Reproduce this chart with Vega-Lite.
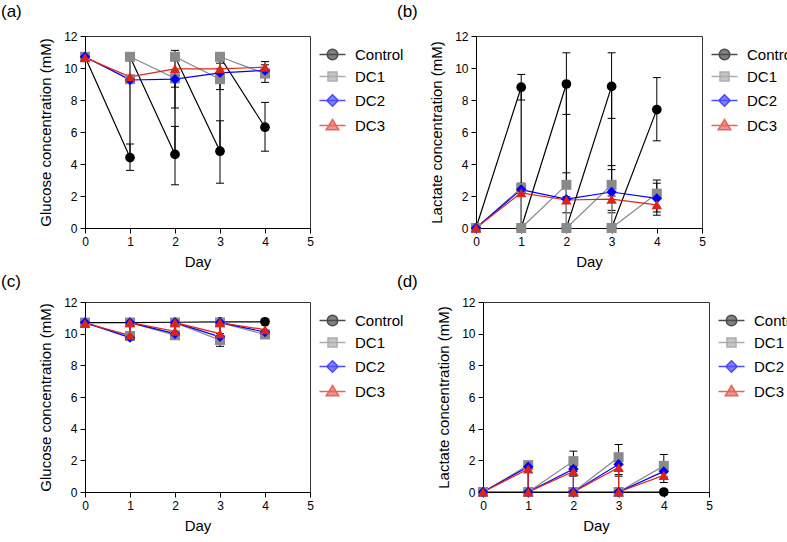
{
"$schema": "https://vega.github.io/schema/vega-lite/v6.json",
"padding": {"left": 0, "top": 2, "right": 0, "bottom": 0},
"spacing": 2,
"datasets": {
"pts": [
{"p":"a","s":"Control","k":0,"d":0,"v":10.7},{"p":"a","s":"Control","k":1,"d":1,"v":4.4},{"p":"a","s":"Control","k":2,"d":1,"v":10.7},{"p":"a","s":"Control","k":3,"d":2,"v":4.6},{"p":"a","s":"Control","k":4,"d":2,"v":10.7},{"p":"a","s":"Control","k":5,"d":3,"v":4.8},{"p":"a","s":"Control","k":6,"d":3,"v":10.7},{"p":"a","s":"Control","k":7,"d":4,"v":6.3},
{"p":"a","s":"DC1","k":0,"d":0,"v":10.7},{"p":"a","s":"DC1","k":1,"d":1,"v":9.3},{"p":"a","s":"DC1","k":2,"d":1,"v":10.7},{"p":"a","s":"DC1","k":3,"d":2,"v":9.35},{"p":"a","s":"DC1","k":4,"d":2,"v":10.7},{"p":"a","s":"DC1","k":5,"d":3,"v":9.3},{"p":"a","s":"DC1","k":6,"d":3,"v":10.7},{"p":"a","s":"DC1","k":7,"d":4,"v":9.65},
{"p":"a","s":"DC2","k":0,"d":0,"v":10.7},{"p":"a","s":"DC2","k":1,"d":1,"v":9.25},{"p":"a","s":"DC2","k":2,"d":2,"v":9.3},{"p":"a","s":"DC2","k":3,"d":3,"v":9.7},{"p":"a","s":"DC2","k":4,"d":4,"v":9.85},
{"p":"a","s":"DC3","k":0,"d":0,"v":10.65},{"p":"a","s":"DC3","k":1,"d":1,"v":9.45},{"p":"a","s":"DC3","k":2,"d":2,"v":9.95},{"p":"a","s":"DC3","k":3,"d":3,"v":9.95},{"p":"a","s":"DC3","k":4,"d":4,"v":10.05},
{"p":"b","s":"Control","k":0,"d":0,"v":0},{"p":"b","s":"Control","k":1,"d":1,"v":8.8},{"p":"b","s":"Control","k":2,"d":1,"v":0},{"p":"b","s":"Control","k":3,"d":2,"v":9.0},{"p":"b","s":"Control","k":4,"d":2,"v":0},{"p":"b","s":"Control","k":5,"d":3,"v":8.85},{"p":"b","s":"Control","k":6,"d":3,"v":0},{"p":"b","s":"Control","k":7,"d":4,"v":7.4},
{"p":"b","s":"DC1","k":0,"d":0,"v":0},{"p":"b","s":"DC1","k":1,"d":1,"v":2.5},{"p":"b","s":"DC1","k":2,"d":1,"v":0},{"p":"b","s":"DC1","k":3,"d":2,"v":2.7},{"p":"b","s":"DC1","k":4,"d":2,"v":0},{"p":"b","s":"DC1","k":5,"d":3,"v":2.7},{"p":"b","s":"DC1","k":6,"d":3,"v":0},{"p":"b","s":"DC1","k":7,"d":4,"v":2.15},
{"p":"b","s":"DC2","k":0,"d":0,"v":0},{"p":"b","s":"DC2","k":1,"d":1,"v":2.4},{"p":"b","s":"DC2","k":2,"d":2,"v":1.8},{"p":"b","s":"DC2","k":3,"d":3,"v":2.25},{"p":"b","s":"DC2","k":4,"d":4,"v":1.85},
{"p":"b","s":"DC3","k":0,"d":0,"v":0},{"p":"b","s":"DC3","k":1,"d":1,"v":2.2},{"p":"b","s":"DC3","k":2,"d":2,"v":1.75},{"p":"b","s":"DC3","k":3,"d":3,"v":1.8},{"p":"b","s":"DC3","k":4,"d":4,"v":1.45},
{"p":"c","s":"Control","k":0,"d":0,"v":10.7},{"p":"c","s":"Control","k":1,"d":1,"v":10.7},{"p":"c","s":"Control","k":2,"d":2,"v":10.72},{"p":"c","s":"Control","k":3,"d":3,"v":10.75},{"p":"c","s":"Control","k":4,"d":4,"v":10.75},
{"p":"c","s":"DC1","k":0,"d":0,"v":10.7},{"p":"c","s":"DC1","k":1,"d":1,"v":9.85},{"p":"c","s":"DC1","k":2,"d":1,"v":10.7},{"p":"c","s":"DC1","k":3,"d":2,"v":9.9},{"p":"c","s":"DC1","k":4,"d":2,"v":10.7},{"p":"c","s":"DC1","k":5,"d":3,"v":9.6},{"p":"c","s":"DC1","k":6,"d":3,"v":10.7},{"p":"c","s":"DC1","k":7,"d":4,"v":9.95},
{"p":"c","s":"DC2","k":0,"d":0,"v":10.7},{"p":"c","s":"DC2","k":1,"d":1,"v":9.75},{"p":"c","s":"DC2","k":2,"d":1,"v":10.7},{"p":"c","s":"DC2","k":3,"d":2,"v":10.0},{"p":"c","s":"DC2","k":4,"d":2,"v":10.7},{"p":"c","s":"DC2","k":5,"d":3,"v":9.8},{"p":"c","s":"DC2","k":6,"d":3,"v":10.7},{"p":"c","s":"DC2","k":7,"d":4,"v":10.1},
{"p":"c","s":"DC3","k":0,"d":0,"v":10.65},{"p":"c","s":"DC3","k":1,"d":1,"v":9.9},{"p":"c","s":"DC3","k":2,"d":1,"v":10.7},{"p":"c","s":"DC3","k":3,"d":2,"v":10.15},{"p":"c","s":"DC3","k":4,"d":2,"v":10.7},{"p":"c","s":"DC3","k":5,"d":3,"v":10.0},{"p":"c","s":"DC3","k":6,"d":3,"v":10.7},{"p":"c","s":"DC3","k":7,"d":4,"v":10.25},
{"p":"d","s":"Control","k":0,"d":0,"v":0},{"p":"d","s":"Control","k":1,"d":1,"v":0},{"p":"d","s":"Control","k":2,"d":2,"v":0},{"p":"d","s":"Control","k":3,"d":3,"v":0},{"p":"d","s":"Control","k":4,"d":4,"v":0},
{"p":"d","s":"DC1","k":0,"d":0,"v":0},{"p":"d","s":"DC1","k":1,"d":1,"v":1.7},{"p":"d","s":"DC1","k":2,"d":1,"v":0},{"p":"d","s":"DC1","k":3,"d":2,"v":1.95},{"p":"d","s":"DC1","k":4,"d":2,"v":0},{"p":"d","s":"DC1","k":5,"d":3,"v":2.2},{"p":"d","s":"DC1","k":6,"d":3,"v":0},{"p":"d","s":"DC1","k":7,"d":4,"v":1.65},
{"p":"d","s":"DC2","k":0,"d":0,"v":0},{"p":"d","s":"DC2","k":1,"d":1,"v":1.6},{"p":"d","s":"DC2","k":2,"d":1,"v":0},{"p":"d","s":"DC2","k":3,"d":2,"v":1.45},{"p":"d","s":"DC2","k":4,"d":2,"v":0},{"p":"d","s":"DC2","k":5,"d":3,"v":1.75},{"p":"d","s":"DC2","k":6,"d":3,"v":0},{"p":"d","s":"DC2","k":7,"d":4,"v":1.3},
{"p":"d","s":"DC3","k":0,"d":0,"v":0},{"p":"d","s":"DC3","k":1,"d":1,"v":1.45},{"p":"d","s":"DC3","k":2,"d":1,"v":0},{"p":"d","s":"DC3","k":3,"d":2,"v":1.3},{"p":"d","s":"DC3","k":4,"d":2,"v":0},{"p":"d","s":"DC3","k":5,"d":3,"v":1.55},{"p":"d","s":"DC3","k":6,"d":3,"v":0},{"p":"d","s":"DC3","k":7,"d":4,"v":1.05}
],
"err": [
{"p":"a","s":"Control","d":1,"lo":3.6,"hi":5.25},{"p":"a","s":"Control","d":2,"lo":2.7,"hi":6.35},{"p":"a","s":"Control","d":3,"lo":2.8,"hi":6.7},{"p":"a","s":"Control","d":4,"lo":4.8,"hi":7.85},
{"p":"a","s":"DC1","d":2,"lo":7.5,"hi":11.1},{"p":"a","s":"DC1","d":3,"lo":8.65,"hi":9.95},{"p":"a","s":"DC1","d":4,"lo":9.1,"hi":10.2},
{"p":"a","s":"DC2","d":2,"lo":8.8,"hi":9.8},{"p":"a","s":"DC3","d":3,"lo":9.6,"hi":10.3},{"p":"a","s":"DC3","d":4,"lo":9.7,"hi":10.4},
{"p":"b","s":"Control","d":1,"lo":8.0,"hi":9.6},{"p":"b","s":"Control","d":2,"lo":7.1,"hi":10.95},{"p":"b","s":"Control","d":3,"lo":6.85,"hi":10.95},{"p":"b","s":"Control","d":4,"lo":5.45,"hi":9.4},
{"p":"b","s":"DC1","d":1,"lo":2.2,"hi":2.8},{"p":"b","s":"DC1","d":2,"lo":1.95,"hi":3.45},{"p":"b","s":"DC1","d":3,"lo":2.0,"hi":3.9},{"p":"b","s":"DC1","d":4,"lo":1.3,"hi":3.0},
{"p":"b","s":"DC2","d":3,"lo":1.1,"hi":3.65},{"p":"b","s":"DC2","d":4,"lo":1.0,"hi":2.8},
{"p":"b","s":"DC3","d":2,"lo":0.95,"hi":2.5},{"p":"b","s":"DC3","d":3,"lo":0.95,"hi":2.6},{"p":"b","s":"DC3","d":4,"lo":0.8,"hi":2.1},
{"p":"c","s":"DC1","d":3,"lo":9.2,"hi":10.0},
{"p":"d","s":"DC1","d":2,"lo":1.3,"hi":2.58},{"p":"d","s":"DC1","d":3,"lo":1.4,"hi":3.0},{"p":"d","s":"DC1","d":4,"lo":0.95,"hi":2.37},
{"p":"d","s":"DC2","d":3,"lo":1.1,"hi":2.4},{"p":"d","s":"DC3","d":2,"lo":1.0,"hi":1.6},{"p":"d","s":"DC3","d":3,"lo":1.0,"hi":2.1},{"p":"d","s":"DC3","d":4,"lo":0.6,"hi":1.5}
]
},
"vconcat": [
{"hconcat": [
{"width": 225, "height": 192,
 "title": {"text": "(a)", "offset": 9},
 "data": {"name": "pts"},
 "encoding": {"x":{"field":"d","type":"quantitative","scale":{"domain":[0,5],"nice":false},"axis":{"values":[0,1,2,3,4,5],"title":"Day"}},
   "y":{"field":"v","type":"quantitative","scale":{"domain":[0,12],"nice":false},"axis":{"values":[0,2,4,6,8,10,12],"title":"Glucose concentration (mM)"}}},
 "layer": [
  {"data": {"name":"err"}, "transform":[{"filter":"datum.p == 'a'"}], "mark":{"type":"rule","color":"#000000","strokeWidth":1},
   "encoding":{"y":{"field":"lo","type":"quantitative","scale":{"domain":[0,12],"nice":false},"axis":{"values":[0,2,4,6,8,10,12],"title":"Glucose concentration (mM)"}},"y2":{"field":"hi"}}},
  {"data": {"name":"err"}, "transform":[{"filter":"datum.p == 'a'"}], "mark":{"type":"point","shape":"stroke","size":64,"color":"#000000","strokeWidth":1,"opacity":1},
   "encoding":{"y":{"field":"lo","type":"quantitative","scale":{"domain":[0,12],"nice":false},"axis":{"values":[0,2,4,6,8,10,12],"title":"Glucose concentration (mM)"}}}},
  {"data": {"name":"err"}, "transform":[{"filter":"datum.p == 'a'"}], "mark":{"type":"point","shape":"stroke","size":64,"color":"#000000","strokeWidth":1,"opacity":1},
   "encoding":{"y":{"field":"hi","type":"quantitative","scale":{"domain":[0,12],"nice":false},"axis":{"values":[0,2,4,6,8,10,12],"title":"Glucose concentration (mM)"}}}},
  {"transform":[{"filter":"datum.p == 'a' && datum.s == 'Control'"}], "mark":{"type":"line","color":"#000000","strokeWidth":1.2}, "encoding":{"order":{"field":"k","type":"quantitative"}}},
  {"transform":[{"filter":"datum.p == 'a' && datum.s == 'DC1'"}], "mark":{"type":"line","color":"#8a8a8a","strokeWidth":1.2}, "encoding":{"order":{"field":"k","type":"quantitative"}}},
  {"transform":[{"filter":"datum.p == 'a' && datum.s == 'DC2'"}], "mark":{"type":"line","color":"#0000ff","strokeWidth":1.2}, "encoding":{"order":{"field":"k","type":"quantitative"}}},
  {"transform":[{"filter":"datum.p == 'a' && datum.s == 'DC3'"}], "mark":{"type":"line","color":"#dd2418","strokeWidth":1.2}, "encoding":{"order":{"field":"k","type":"quantitative"}}},
  {"transform":[{"filter":"datum.p == 'a' && datum.s == 'Control'"}], "mark":{"type":"point","shape":"circle","filled":true,"opacity":1,"size":95,"color":"#000000"}},
  {"transform":[{"filter":"datum.p == 'a' && datum.s == 'DC1'"}], "mark":{"type":"point","shape":"square","filled":true,"opacity":1,"size":100,"color":"#8a8a8a"}},
  {"transform":[{"filter":"datum.p == 'a' && datum.s == 'DC2'"}], "mark":{"type":"point","shape":"diamond","filled":true,"opacity":1,"size":110,"color":"#0000ff"}},
  {"transform":[{"filter":"datum.p == 'a' && datum.s == 'DC3'"}], "mark":{"type":"point","shape":"triangle-up","filled":true,"opacity":1,"size":110,"color":"#dd2418"}},
  {"transform":[{"filter":"datum.p == 'none'"}], "mark":{"type":"point","filled":true},
   "encoding":{
    "fill":{"field":"s","type":"nominal","scale":{"domain":["Control","DC1","DC2","DC3"],"range":["#000000","#8a8a8a","#0000ff","#dd2418"]},"legend":{"title":" "}},
    "stroke":{"field":"s","type":"nominal","scale":{"domain":["Control","DC1","DC2","DC3"],"range":["#000000","#8a8a8a","#0000ff","#dd2418"]},"legend":{"title":" "}},
    "shape":{"field":"s","type":"nominal","scale":{"domain":["Control","DC1","DC2","DC3"],"range":["M-2.6,0L2.6,0M-1.05,0A1.05,1.05,0,1,0,1.05,0A1.05,1.05,0,1,0,-1.05,0Z","M-2.6,0L2.6,0M-0.9,-0.9L0.9,-0.9L0.9,0.9L-0.9,0.9Z","M-2.6,0L2.6,0M0,-1.15L1.15,0L0,1.15L-1.15,0Z","M-2.6,0L2.6,0M0,-1.2L1.25,0.85L-1.25,0.85Z"]},"legend":{"title":" "}}}}
 ]},
{"width": 226, "height": 192,
 "title": {"text": "(b)", "offset": 9, "dx": -79},
 "data": {"name": "pts"},
 "encoding": {"x":{"field":"d","type":"quantitative","scale":{"domain":[0,5],"nice":false},"axis":{"values":[0,1,2,3,4,5],"title":"Day"}},
   "y":{"field":"v","type":"quantitative","scale":{"domain":[0,12],"nice":false},"axis":{"values":[0,2,4,6,8,10,12],"title":"Lactate concentration (mM)"}}},
 "layer": [
  {"data": {"name":"err"}, "transform":[{"filter":"datum.p == 'b'"}], "mark":{"type":"rule","color":"#000000","strokeWidth":1},
   "encoding":{"y":{"field":"lo","type":"quantitative","scale":{"domain":[0,12],"nice":false},"axis":{"values":[0,2,4,6,8,10,12],"title":"Lactate concentration (mM)"}},"y2":{"field":"hi"}}},
  {"data": {"name":"err"}, "transform":[{"filter":"datum.p == 'b'"}], "mark":{"type":"point","shape":"stroke","size":64,"color":"#000000","strokeWidth":1,"opacity":1},
   "encoding":{"y":{"field":"lo","type":"quantitative","scale":{"domain":[0,12],"nice":false},"axis":{"values":[0,2,4,6,8,10,12],"title":"Lactate concentration (mM)"}}}},
  {"data": {"name":"err"}, "transform":[{"filter":"datum.p == 'b'"}], "mark":{"type":"point","shape":"stroke","size":64,"color":"#000000","strokeWidth":1,"opacity":1},
   "encoding":{"y":{"field":"hi","type":"quantitative","scale":{"domain":[0,12],"nice":false},"axis":{"values":[0,2,4,6,8,10,12],"title":"Lactate concentration (mM)"}}}},
  {"transform":[{"filter":"datum.p == 'b' && datum.s == 'Control'"}], "mark":{"type":"line","color":"#000000","strokeWidth":1.2}, "encoding":{"order":{"field":"k","type":"quantitative"}}},
  {"transform":[{"filter":"datum.p == 'b' && datum.s == 'DC1'"}], "mark":{"type":"line","color":"#8a8a8a","strokeWidth":1.2}, "encoding":{"order":{"field":"k","type":"quantitative"}}},
  {"transform":[{"filter":"datum.p == 'b' && datum.s == 'DC2'"}], "mark":{"type":"line","color":"#0000ff","strokeWidth":1.2}, "encoding":{"order":{"field":"k","type":"quantitative"}}},
  {"transform":[{"filter":"datum.p == 'b' && datum.s == 'DC3'"}], "mark":{"type":"line","color":"#dd2418","strokeWidth":1.2}, "encoding":{"order":{"field":"k","type":"quantitative"}}},
  {"transform":[{"filter":"datum.p == 'b' && datum.s == 'Control'"}], "mark":{"type":"point","shape":"circle","filled":true,"opacity":1,"size":95,"color":"#000000"}},
  {"transform":[{"filter":"datum.p == 'b' && datum.s == 'DC1'"}], "mark":{"type":"point","shape":"square","filled":true,"opacity":1,"size":100,"color":"#8a8a8a"}},
  {"transform":[{"filter":"datum.p == 'b' && datum.s == 'DC2'"}], "mark":{"type":"point","shape":"diamond","filled":true,"opacity":1,"size":110,"color":"#0000ff"}},
  {"transform":[{"filter":"datum.p == 'b' && datum.s == 'DC3'"}], "mark":{"type":"point","shape":"triangle-up","filled":true,"opacity":1,"size":110,"color":"#dd2418"}},
  {"transform":[{"filter":"datum.p == 'none'"}], "mark":{"type":"point","filled":true},
   "encoding":{
    "fill":{"field":"s","type":"nominal","scale":{"domain":["Control","DC1","DC2","DC3"],"range":["#000000","#8a8a8a","#0000ff","#dd2418"]},"legend":{"title":" "}},
    "stroke":{"field":"s","type":"nominal","scale":{"domain":["Control","DC1","DC2","DC3"],"range":["#000000","#8a8a8a","#0000ff","#dd2418"]},"legend":{"title":" "}},
    "shape":{"field":"s","type":"nominal","scale":{"domain":["Control","DC1","DC2","DC3"],"range":["M-2.6,0L2.6,0M-1.05,0A1.05,1.05,0,1,0,1.05,0A1.05,1.05,0,1,0,-1.05,0Z","M-2.6,0L2.6,0M-0.9,-0.9L0.9,-0.9L0.9,0.9L-0.9,0.9Z","M-2.6,0L2.6,0M0,-1.15L1.15,0L0,1.15L-1.15,0Z","M-2.6,0L2.6,0M0,-1.2L1.25,0.85L-1.25,0.85Z"]},"legend":{"title":" "}}}}
 ]}
], "spacing": -9,
 "resolve": {"scale": {"fill": "independent", "stroke": "independent", "shape": "independent"}, "legend": {"fill": "independent", "stroke": "independent", "shape": "independent"}}},
{"hconcat": [
{"width": 225, "height": 190,
 "title": {"text": "(c)", "offset": 5},
 "data": {"name": "pts"},
 "encoding": {"x":{"field":"d","type":"quantitative","scale":{"domain":[0,5],"nice":false},"axis":{"values":[0,1,2,3,4,5],"title":"Day"}},
   "y":{"field":"v","type":"quantitative","scale":{"domain":[0,12],"nice":false},"axis":{"values":[0,2,4,6,8,10,12],"title":"Glucose concentration (mM)"}}},
 "layer": [
  {"data": {"name":"err"}, "transform":[{"filter":"datum.p == 'c'"}], "mark":{"type":"rule","color":"#000000","strokeWidth":1},
   "encoding":{"y":{"field":"lo","type":"quantitative","scale":{"domain":[0,12],"nice":false},"axis":{"values":[0,2,4,6,8,10,12],"title":"Glucose concentration (mM)"}},"y2":{"field":"hi"}}},
  {"data": {"name":"err"}, "transform":[{"filter":"datum.p == 'c'"}], "mark":{"type":"point","shape":"stroke","size":64,"color":"#000000","strokeWidth":1,"opacity":1},
   "encoding":{"y":{"field":"lo","type":"quantitative","scale":{"domain":[0,12],"nice":false},"axis":{"values":[0,2,4,6,8,10,12],"title":"Glucose concentration (mM)"}}}},
  {"data": {"name":"err"}, "transform":[{"filter":"datum.p == 'c'"}], "mark":{"type":"point","shape":"stroke","size":64,"color":"#000000","strokeWidth":1,"opacity":1},
   "encoding":{"y":{"field":"hi","type":"quantitative","scale":{"domain":[0,12],"nice":false},"axis":{"values":[0,2,4,6,8,10,12],"title":"Glucose concentration (mM)"}}}},
  {"transform":[{"filter":"datum.p == 'c' && datum.s == 'Control'"}], "mark":{"type":"line","color":"#000000","strokeWidth":1.2}, "encoding":{"order":{"field":"k","type":"quantitative"}}},
  {"transform":[{"filter":"datum.p == 'c' && datum.s == 'DC1'"}], "mark":{"type":"line","color":"#8a8a8a","strokeWidth":1.2}, "encoding":{"order":{"field":"k","type":"quantitative"}}},
  {"transform":[{"filter":"datum.p == 'c' && datum.s == 'DC2'"}], "mark":{"type":"line","color":"#0000ff","strokeWidth":1.2}, "encoding":{"order":{"field":"k","type":"quantitative"}}},
  {"transform":[{"filter":"datum.p == 'c' && datum.s == 'DC3'"}], "mark":{"type":"line","color":"#dd2418","strokeWidth":1.2}, "encoding":{"order":{"field":"k","type":"quantitative"}}},
  {"transform":[{"filter":"datum.p == 'c' && datum.s == 'Control'"}], "mark":{"type":"point","shape":"circle","filled":true,"opacity":1,"size":95,"color":"#000000"}},
  {"transform":[{"filter":"datum.p == 'c' && datum.s == 'DC1'"}], "mark":{"type":"point","shape":"square","filled":true,"opacity":1,"size":100,"color":"#8a8a8a"}},
  {"transform":[{"filter":"datum.p == 'c' && datum.s == 'DC2'"}], "mark":{"type":"point","shape":"diamond","filled":true,"opacity":1,"size":110,"color":"#0000ff"}},
  {"transform":[{"filter":"datum.p == 'c' && datum.s == 'DC3'"}], "mark":{"type":"point","shape":"triangle-up","filled":true,"opacity":1,"size":110,"color":"#dd2418"}},
  {"transform":[{"filter":"datum.p == 'none'"}], "mark":{"type":"point","filled":true},
   "encoding":{
    "fill":{"field":"s","type":"nominal","scale":{"domain":["Control","DC1","DC2","DC3"],"range":["#000000","#8a8a8a","#0000ff","#dd2418"]},"legend":{"title":" "}},
    "stroke":{"field":"s","type":"nominal","scale":{"domain":["Control","DC1","DC2","DC3"],"range":["#000000","#8a8a8a","#0000ff","#dd2418"]},"legend":{"title":" "}},
    "shape":{"field":"s","type":"nominal","scale":{"domain":["Control","DC1","DC2","DC3"],"range":["M-2.6,0L2.6,0M-1.05,0A1.05,1.05,0,1,0,1.05,0A1.05,1.05,0,1,0,-1.05,0Z","M-2.6,0L2.6,0M-0.9,-0.9L0.9,-0.9L0.9,0.9L-0.9,0.9Z","M-2.6,0L2.6,0M0,-1.15L1.15,0L0,1.15L-1.15,0Z","M-2.6,0L2.6,0M0,-1.2L1.25,0.85L-1.25,0.85Z"]},"legend":{"title":" "}}}}
 ]},
{"width": 226, "height": 190,
 "title": {"text": "(d)", "offset": 5, "dx": -86},
 "data": {"name": "pts"},
 "encoding": {"x":{"field":"d","type":"quantitative","scale":{"domain":[0,5],"nice":false},"axis":{"values":[0,1,2,3,4,5],"title":"Day"}},
   "y":{"field":"v","type":"quantitative","scale":{"domain":[0,12],"nice":false},"axis":{"values":[0,2,4,6,8,10,12],"title":"Lactate concentration (mM)"}}},
 "layer": [
  {"data": {"name":"err"}, "transform":[{"filter":"datum.p == 'd'"}], "mark":{"type":"rule","color":"#000000","strokeWidth":1},
   "encoding":{"y":{"field":"lo","type":"quantitative","scale":{"domain":[0,12],"nice":false},"axis":{"values":[0,2,4,6,8,10,12],"title":"Lactate concentration (mM)"}},"y2":{"field":"hi"}}},
  {"data": {"name":"err"}, "transform":[{"filter":"datum.p == 'd'"}], "mark":{"type":"point","shape":"stroke","size":64,"color":"#000000","strokeWidth":1,"opacity":1},
   "encoding":{"y":{"field":"lo","type":"quantitative","scale":{"domain":[0,12],"nice":false},"axis":{"values":[0,2,4,6,8,10,12],"title":"Lactate concentration (mM)"}}}},
  {"data": {"name":"err"}, "transform":[{"filter":"datum.p == 'd'"}], "mark":{"type":"point","shape":"stroke","size":64,"color":"#000000","strokeWidth":1,"opacity":1},
   "encoding":{"y":{"field":"hi","type":"quantitative","scale":{"domain":[0,12],"nice":false},"axis":{"values":[0,2,4,6,8,10,12],"title":"Lactate concentration (mM)"}}}},
  {"transform":[{"filter":"datum.p == 'd' && datum.s == 'Control'"}], "mark":{"type":"line","color":"#000000","strokeWidth":1.2}, "encoding":{"order":{"field":"k","type":"quantitative"}}},
  {"transform":[{"filter":"datum.p == 'd' && datum.s == 'DC1'"}], "mark":{"type":"line","color":"#8a8a8a","strokeWidth":1.2}, "encoding":{"order":{"field":"k","type":"quantitative"}}},
  {"transform":[{"filter":"datum.p == 'd' && datum.s == 'DC2'"}], "mark":{"type":"line","color":"#0000ff","strokeWidth":1.2}, "encoding":{"order":{"field":"k","type":"quantitative"}}},
  {"transform":[{"filter":"datum.p == 'd' && datum.s == 'DC3'"}], "mark":{"type":"line","color":"#dd2418","strokeWidth":1.2}, "encoding":{"order":{"field":"k","type":"quantitative"}}},
  {"transform":[{"filter":"datum.p == 'd' && datum.s == 'Control'"}], "mark":{"type":"point","shape":"circle","filled":true,"opacity":1,"size":95,"color":"#000000"}},
  {"transform":[{"filter":"datum.p == 'd' && datum.s == 'DC1'"}], "mark":{"type":"point","shape":"square","filled":true,"opacity":1,"size":100,"color":"#8a8a8a"}},
  {"transform":[{"filter":"datum.p == 'd' && datum.s == 'DC2'"}], "mark":{"type":"point","shape":"diamond","filled":true,"opacity":1,"size":110,"color":"#0000ff"}},
  {"transform":[{"filter":"datum.p == 'd' && datum.s == 'DC3'"}], "mark":{"type":"point","shape":"triangle-up","filled":true,"opacity":1,"size":110,"color":"#dd2418"}},
  {"transform":[{"filter":"datum.p == 'none'"}], "mark":{"type":"point","filled":true},
   "encoding":{
    "fill":{"field":"s","type":"nominal","scale":{"domain":["Control","DC1","DC2","DC3"],"range":["#000000","#8a8a8a","#0000ff","#dd2418"]},"legend":{"title":" "}},
    "stroke":{"field":"s","type":"nominal","scale":{"domain":["Control","DC1","DC2","DC3"],"range":["#000000","#8a8a8a","#0000ff","#dd2418"]},"legend":{"title":" "}},
    "shape":{"field":"s","type":"nominal","scale":{"domain":["Control","DC1","DC2","DC3"],"range":["M-2.6,0L2.6,0M-1.05,0A1.05,1.05,0,1,0,1.05,0A1.05,1.05,0,1,0,-1.05,0Z","M-2.6,0L2.6,0M-0.9,-0.9L0.9,-0.9L0.9,0.9L-0.9,0.9Z","M-2.6,0L2.6,0M0,-1.15L1.15,0L0,1.15L-1.15,0Z","M-2.6,0L2.6,0M0,-1.2L1.25,0.85L-1.25,0.85Z"]},"legend":{"title":" "}}}}
 ]}
], "spacing": -9,
 "resolve": {"scale": {"fill": "independent", "stroke": "independent", "shape": "independent"}, "legend": {"fill": "independent", "stroke": "independent", "shape": "independent"}}}
],
"resolve": {"scale": {"fill": "independent", "stroke": "independent", "shape": "independent"}, "legend": {"fill": "independent", "stroke": "independent", "shape": "independent"}},
"config": {
 "font": "Liberation Sans",
 "view": {"stroke": "#333333", "strokeWidth": 1},
 "axis": {"grid": false, "domainColor": "#000000", "tickColor": "#000000", "labelColor": "#000000", "titleColor": "#000000",
   "labelFont": "Liberation Sans", "titleFont": "Liberation Sans", "labelFontSize": 12, "titleFontSize": 15, "titleFontWeight": "normal",
   "tickSize": 5, "labelPadding": 3, "titlePadding": 10, "labelFlush": false, "labelOverlap": false},
 "axisX": {"titlePadding": 7},
 "axisY": {"labelOverlap": false},
 "legend": {"labelFont": "Liberation Sans", "labelFontSize": 15, "labelColor": "#000000", "symbolSize": 100, "symbolStrokeWidth": 1.5,
   "labelOffset": 15, "rowPadding": 6, "offset": 15, "padding": 0, "titleFontSize": 1, "titleColor": "#ffffff", "titlePadding": 10},
 "title": {"anchor": "start", "frame": "group", "dx": -84, "fontSize": 17, "fontWeight": "normal", "font": "Liberation Sans", "color": "#000000"}
}
}
